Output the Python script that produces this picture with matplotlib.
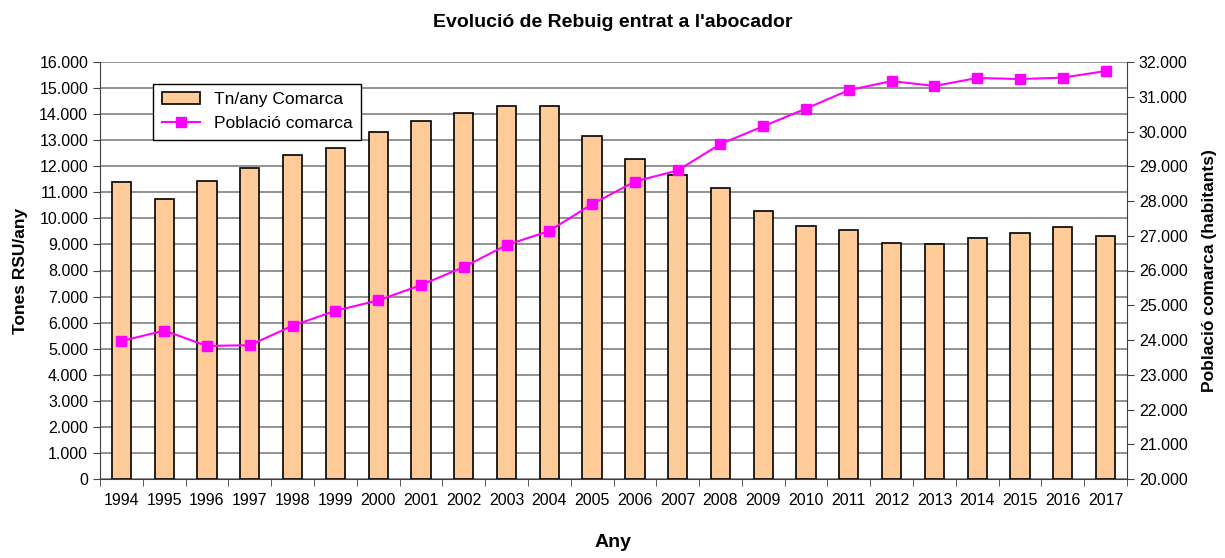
import matplotlib.pyplot as plt
import matplotlib.ticker as mticker
import numpy as np

years = [str(y) for y in range(1994, 2018)]
tones = [11400, 10750, 11430, 11950, 12450, 12700, 13300, 13730, 14060, 14320,
         14320, 13170, 12280, 11680, 11170, 10280, 9690, 9560, 9070, 9000,
         9260, 9420, 9650, 9320]
poblacio = [23970, 24270, 23830, 23850, 24410, 24840, 25140, 25580, 26100, 26730,
            27140, 27910, 28560, 28880, 29640, 30150, 30660, 31190, 31450, 31310,
            31540, 31510, 31550, 31740]

plt.rcParams['font.family'] = ['Liberation Sans', 'DejaVu Sans']

def dots(v, pos):
    return f"{int(v):,}".replace(",", ".")

fig = plt.figure(figsize=(12.25, 5.58), dpi=100)
ax = fig.add_axes([100/1225, 1 - 479/558, (1127-100)/1225, (479-62)/558])
x = np.arange(len(years))

ax.set_axisbelow(True)
ax.yaxis.grid(True, color='#808080', linewidth=1.2)
b = ax.bar(x, tones, width=0.45, color='#FFCC99', edgecolor='black', linewidth=1.2,
           label='Tn/any Comarca')
ax.set_ylim(0, 16000)
ax.set_xlim(-0.5, len(years) - 0.5)
ax.set_yticks(np.arange(0, 16001, 1000))
ax.yaxis.set_major_formatter(mticker.FuncFormatter(dots))
ax.set_xticks(x)
ax.set_xticklabels(years)
ax.set_xticks(np.arange(-0.5, len(years), 1), minor=True)
ax.tick_params(axis='x', which='major', length=0, labelsize=11.5, pad=10)
ax.tick_params(axis='x', which='minor', length=5, color='#404040')
ax.tick_params(axis='y', labelsize=11.5, length=5, color='#404040')
for s in ['top', 'right']:
    ax.spines[s].set_visible(False)
ax.spines['left'].set_color('#404040')
ax.spines['bottom'].set_color('#404040')
ax.set_ylabel('Tones RSU/any', fontsize=12.5, fontweight='bold', labelpad=8)
ax.set_xlabel('Any', fontsize=14, fontweight='bold', labelpad=19)

ax2 = ax.twinx()
l, = ax2.plot(x, poblacio, color='#FF00FF', marker='s', markersize=7, linewidth=1.5,
              label='Població comarca')
ax2.set_ylim(20000, 32000)
ax2.set_yticks(np.arange(20000, 32001, 1000))
ax2.yaxis.set_major_formatter(mticker.FuncFormatter(dots))
ax2.tick_params(axis='y', labelsize=11.5, length=5, color='#404040')
for s in ['top', 'left', 'bottom']:
    ax2.spines[s].set_visible(False)
ax2.spines['right'].set_color('#404040')
ax2.set_ylabel('Població comarca (habitants)', fontsize=12.5, fontweight='bold', labelpad=10)

leg = ax.legend([b, l], ['Tn/any Comarca', 'Població comarca'], loc='upper left',
                bbox_to_anchor=(0.043, 0.95 + 8/417), fontsize=12.5, frameon=True, fancybox=False,
                edgecolor='black', framealpha=1, borderpad=0.5, handlelength=2.2)
leg.get_frame().set_linewidth(1.0)
leg.set_zorder(10)

fig.suptitle("Evolució de Rebuig entrat a l'abocador", fontsize=14, fontweight='bold', y=0.975)

fig.savefig('out.png', dpi=100)
